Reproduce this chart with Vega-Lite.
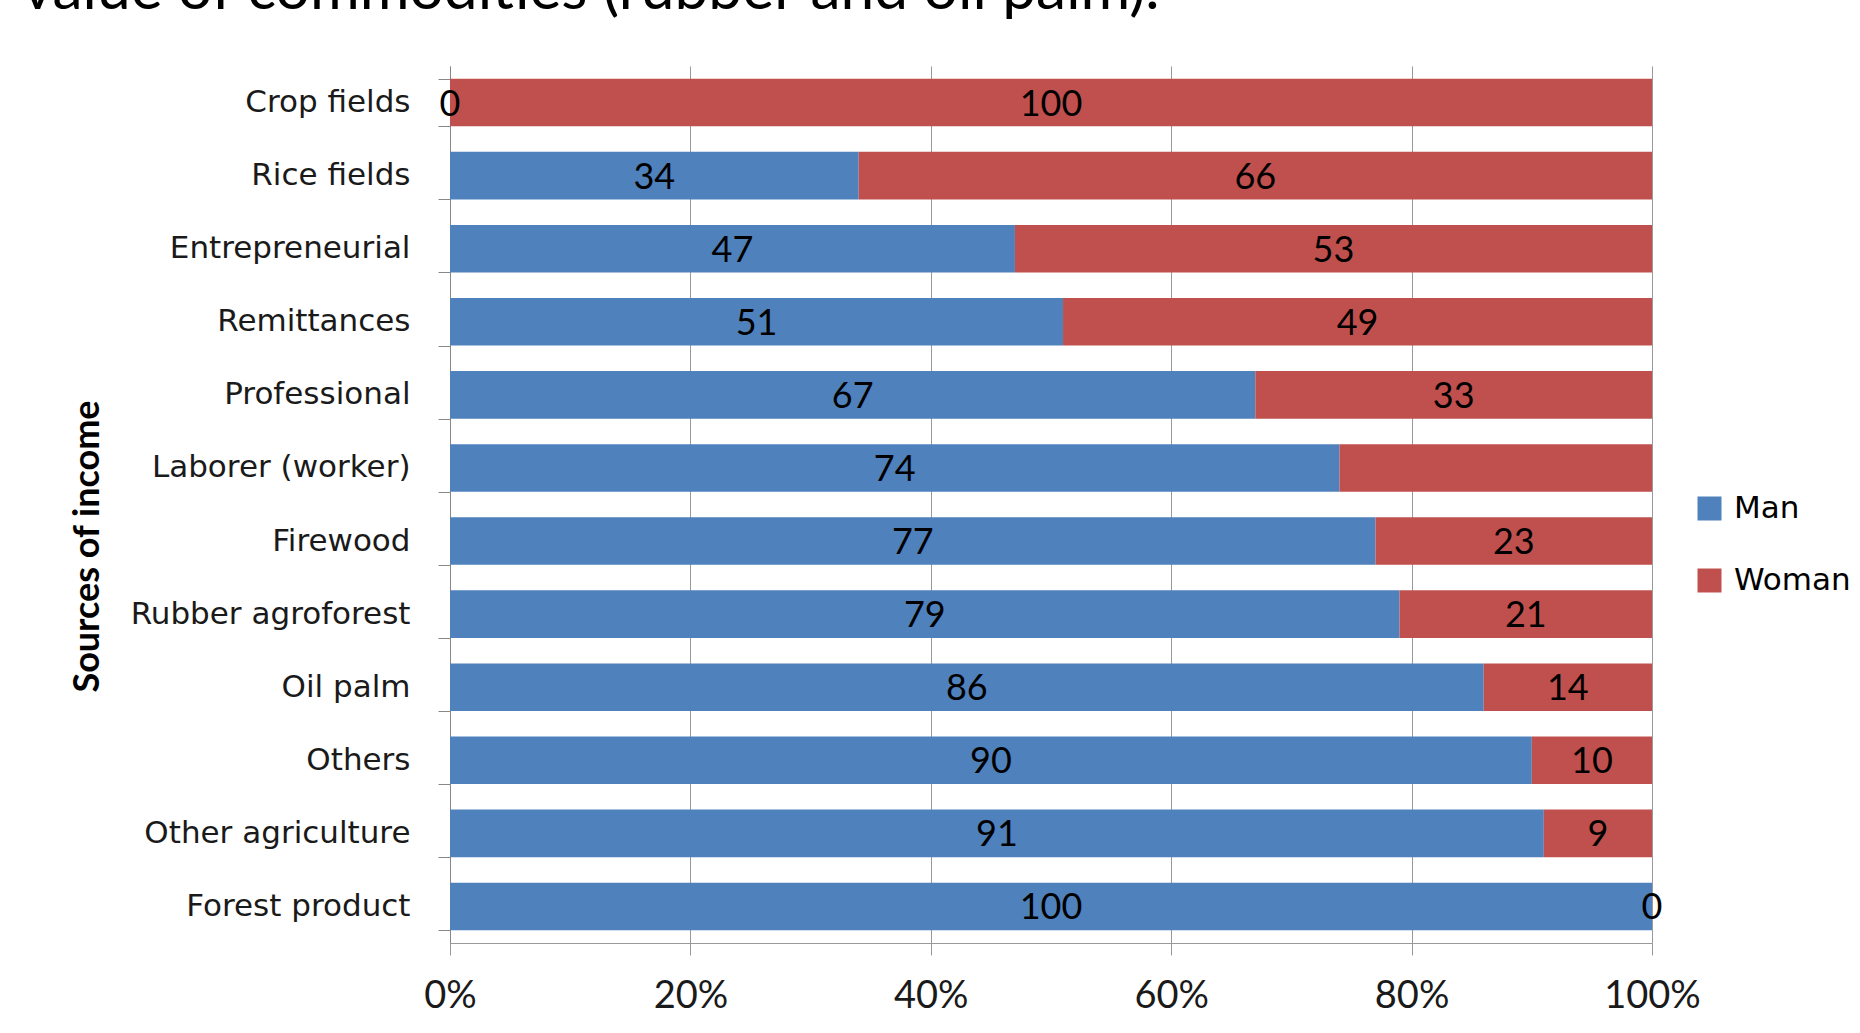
{
  "$schema": "https://vega.github.io/schema/vega-lite/v6.json",
  "width": 1202,
  "height": 877,
  "autosize": {"type": "none"},
  "padding": {"left": 450, "top": 66, "right": 208, "bottom": 90},
  "background": "white",
  "config": {"view": {"stroke": null}},
  "title": {
    "text": "value of commodities (rubber and oil palm).",
    "anchor": "start",
    "frame": "group",
    "orient": "top",
    "fontSize": 60.5,
    "font": "Lato",
    "fontWeight": "normal",
    "color": "black",
    "dx": -428,
    "dy": 19,
    "offset": 0,
    "baseline": "alphabetic"
  },
  "data": {
    "values": [
      {"source": "Crop fields", "gender": "Man", "value": 0},
      {"source": "Crop fields", "gender": "Woman", "value": 100},
      {"source": "Rice fields", "gender": "Man", "value": 34},
      {"source": "Rice fields", "gender": "Woman", "value": 66},
      {"source": "Entrepreneurial", "gender": "Man", "value": 47},
      {"source": "Entrepreneurial", "gender": "Woman", "value": 53},
      {"source": "Remittances", "gender": "Man", "value": 51},
      {"source": "Remittances", "gender": "Woman", "value": 49},
      {"source": "Professional", "gender": "Man", "value": 67},
      {"source": "Professional", "gender": "Woman", "value": 33},
      {"source": "Laborer (worker)", "gender": "Man", "value": 74},
      {"source": "Laborer (worker)", "gender": "Woman", "value": 26},
      {"source": "Firewood", "gender": "Man", "value": 77},
      {"source": "Firewood", "gender": "Woman", "value": 23},
      {"source": "Rubber agroforest", "gender": "Man", "value": 79},
      {"source": "Rubber agroforest", "gender": "Woman", "value": 21},
      {"source": "Oil palm", "gender": "Man", "value": 86},
      {"source": "Oil palm", "gender": "Woman", "value": 14},
      {"source": "Others", "gender": "Man", "value": 90},
      {"source": "Others", "gender": "Woman", "value": 10},
      {"source": "Other agriculture", "gender": "Man", "value": 91},
      {"source": "Other agriculture", "gender": "Woman", "value": 9},
      {"source": "Forest product", "gender": "Man", "value": 100},
      {"source": "Forest product", "gender": "Woman", "value": 0}
    ]
  },
  "transform": [
    {"stack": "value", "groupby": ["source"], "sort": [{"field": "gender", "order": "ascending"}], "as": ["v0", "v1"]},
    {"calculate": "(datum.v0 + datum.v1) / 2", "as": "mid"}
  ],
  "encoding": {
    "y": {
      "field": "source",
      "type": "nominal",
      "sort": ["Crop fields", "Rice fields", "Entrepreneurial", "Remittances", "Professional", "Laborer (worker)", "Firewood", "Rubber agroforest", "Oil palm", "Others", "Other agriculture", "Forest product"],
      "scale": {"paddingInner": 0.35, "paddingOuter": 0.175},
      "axis": {
        "title": "Sources of income",
        "titleFont": "Lato",
        "titleFontWeight": "bold",
        "titleFontSize": 36,
        "titleColor": "black",
        "titleX": -363,
        "titleY": 480,
        "titleBaseline": "middle",
        "titleAngle": -90,
        "labelFont": "DejaVu Sans",
        "labelFontSize": 31,
        "labelColor": "#1a1a1a",
        "labelPadding": 28,
        "labelLimit": 0,
        "tickSize": 12,
        "tickColor": "#888888",
        "domainColor": "#888888",
        "tickBand": "extent",
        "grid": false
      }
    }
  },
  "layer": [
    {
      "mark": {"type": "bar"},
      "encoding": {
        "x": {
          "field": "v0",
          "type": "quantitative",
          "scale": {"domain": [0, 100], "nice": false},
          "axis": {
            "title": null,
            "values": [0, 20, 40, 60, 80, 100],
            "labelExpr": "datum.value + '%'",
            "labelFlush": false,
            "labelOverlap": false,
            "labelFont": "Lato",
            "labelFontSize": 38,
            "labelColor": "#1a1a1a",
            "labelPadding": 22,
            "tickSize": 12,
            "tickColor": "#999999",
            "domainColor": "#999999",
            "grid": true,
            "gridColor": "#999999",
            "gridWidth": 1
          }
        },
        "x2": {"field": "v1"},
        "color": {
          "field": "gender",
          "type": "nominal",
          "scale": {"domain": ["Man", "Woman"], "range": ["#4F81BD", "#C0504D"]},
          "legend": {
            "title": null,
            "orient": "none",
            "legendX": 1244,
            "legendY": 427,
            "symbolType": "square",
            "symbolSize": 576,
            "symbolStrokeWidth": 0,
            "symbolOpacity": 1,
            "labelFont": "DejaVu Sans",
            "labelFontSize": 31,
            "labelColor": "black",
            "labelOffset": 9,
            "rowPadding": 40
          }
        }
      }
    },
    {
      "transform": [{"filter": "!(datum.source === 'Laborer (worker)' && datum.gender === 'Woman')"}],
      "mark": {"type": "text", "font": "Lato", "fontSize": 36, "color": "black", "baseline": "middle", "dy": 2},
      "encoding": {
        "x": {"field": "mid", "type": "quantitative"},
        "text": {"field": "value", "type": "quantitative"}
      }
    }
  ]
}
